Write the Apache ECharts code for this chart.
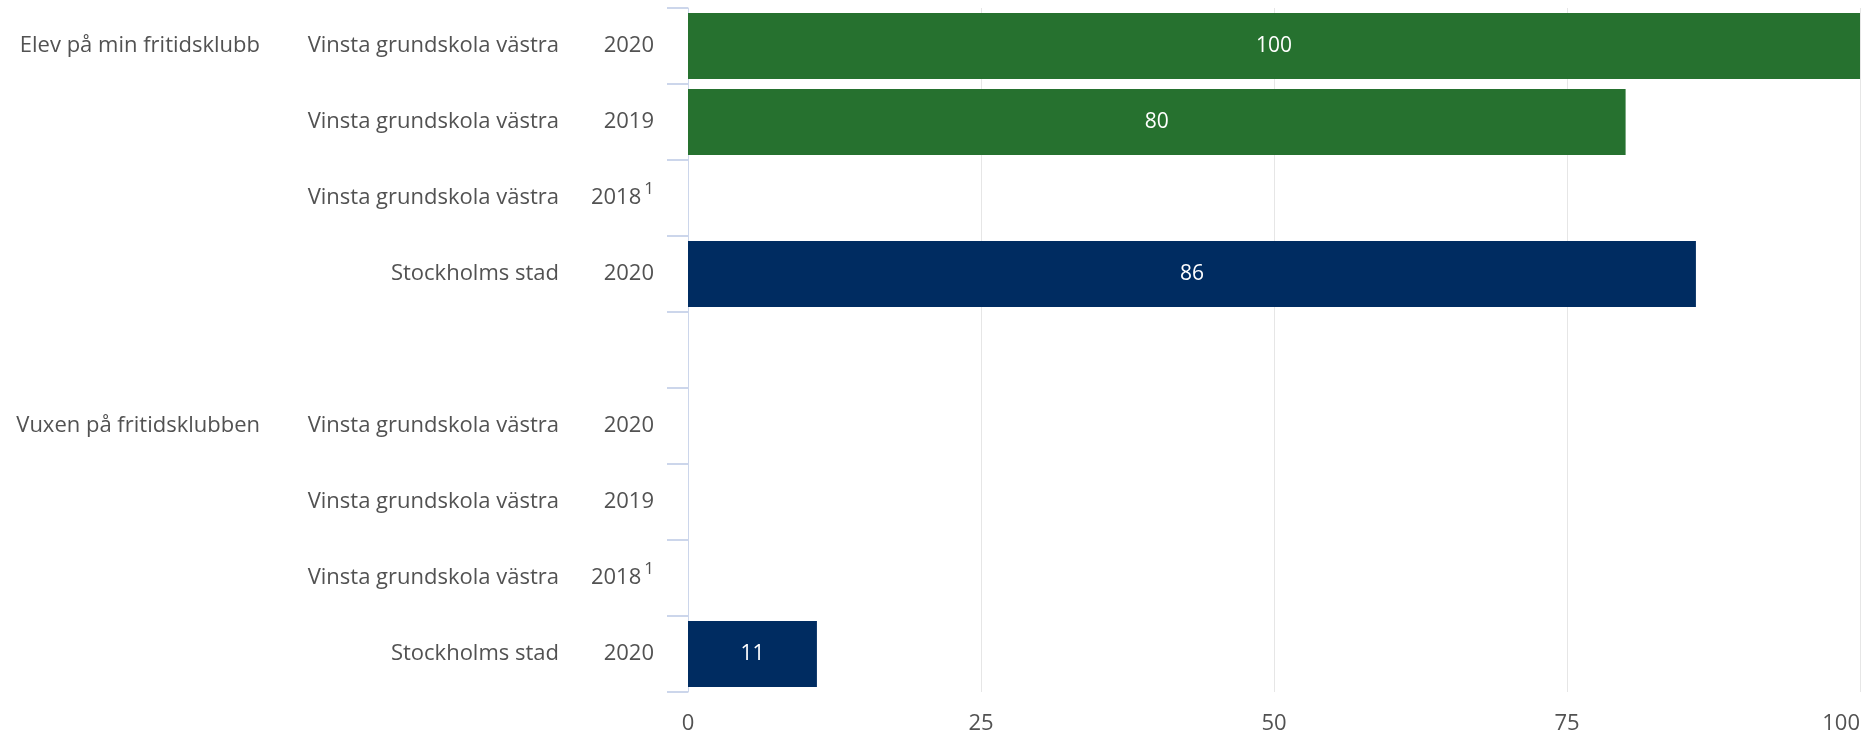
<!DOCTYPE html>
<html>
<head>
<meta charset="utf-8">
<script src="https://cdn.jsdelivr.net/npm/echarts@6/dist/echarts.min.js"></script>
<style>
html,body{margin:0;padding:0;background:#fff;}
#c{width:1872px;height:738px;}
</style>
</head>
<body>
<div id="c"></div>
<script>
// ---- data ----
const groups = ['Elev på min fritidsklubb', '', '', '', '', 'Vuxen på fritidsklubben', '', '', ''];
const units = ['Vinsta grundskola västra', 'Vinsta grundskola västra', 'Vinsta grundskola västra', 'Stockholms stad', '',
               'Vinsta grundskola västra', 'Vinsta grundskola västra', 'Vinsta grundskola västra', 'Stockholms stad'];
const years = ['2020', '2019', '2018¹', '2020', '', '2020', '2019', '2018¹', '2020'];
const values = [100, 80, null, 86, null, null, null, null, 11];
const xTicks = [0, 25, 50, 75, 100];

const GREEN = '#26712f';
const NAVY = '#002c61';
const TEXT = '#525252';
const FONT = 'Open Sans';

const cats = years.map((y, i) => 'c' + i);

const chart = echarts.init(document.getElementById('c'), null, {renderer: 'canvas'});

const labelBase = {color: TEXT, fontSize: 22, fontFamily: FONT};

chart.setOption({
  animation: false,
  grid: {left: 688, right: 12, top: 8, bottom: 46, containLabel: false},
  xAxis: {
    type: 'value', min: xTicks[0], max: xTicks[xTicks.length - 1], interval: 25,
    axisLine: {show: false}, axisTick: {show: false},
    splitLine: {show: true, lineStyle: {color: '#e6e6e6', width: 1}},
    axisLabel: Object.assign({}, labelBase, {margin: 21, alignMaxLabel: 'right'})
  },
  yAxis: [
    {
      type: 'category', data: cats, inverse: true, position: 'left',
      axisLine: {show: true, lineStyle: {color: '#ccd6eb', width: 1}},
      axisTick: {show: true, length: 21, lineStyle: {color: '#ccd6eb', width: 2}},
      splitLine: {show: false},
      axisLabel: Object.assign({}, labelBase, {
        margin: 34,
        formatter: (v, i) => {
          const y = years[i];
          if (y.endsWith('¹')) return y.slice(0, -1) + '{sup|1}';
          return y;
        },
        rich: {sup: {fontSize: 17, fontFamily: FONT, color: TEXT, verticalAlign: 'top', padding: [0, 0, 18, 3]}}
      })
    },
    {
      type: 'category', data: cats, inverse: true, position: 'left',
      axisLine: {show: false}, axisTick: {show: false}, splitLine: {show: false},
      axisLabel: Object.assign({}, labelBase, {margin: 129, formatter: (v, i) => units[i]})
    },
    {
      type: 'category', data: cats, inverse: true, position: 'left',
      axisLine: {show: false}, axisTick: {show: false}, splitLine: {show: false},
      axisLabel: Object.assign({}, labelBase, {margin: 428, formatter: (v, i) => groups[i]})
    }
  ],
  series: [{
    type: 'bar', yAxisIndex: 0,
    barCategoryGap: '13%',
    data: values.map((v, i) => ({
      value: v,
      itemStyle: {color: units[i] === 'Stockholms stad' ? NAVY : GREEN}
    })),
    label: {
      show: true, position: 'inside', color: '#ffffff', fontSize: 21, fontFamily: FONT,
      formatter: p => p.value == null ? '' : String(p.value)
    }
  }]
});
</script>
</body>
</html>
